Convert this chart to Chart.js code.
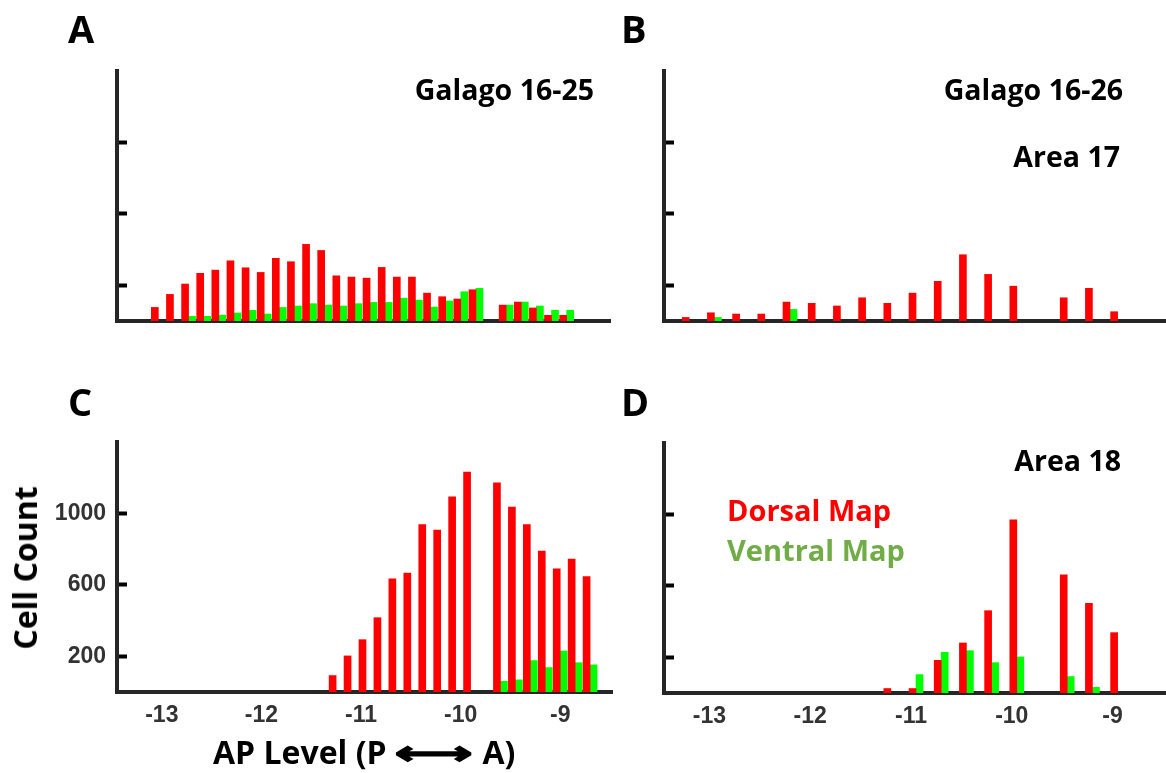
<!DOCTYPE html>
<html>
<head>
<meta charset="utf-8">
<script src="https://cdn.jsdelivr.net/npm/chart.js@4.4.1/dist/chart.umd.min.js"></script>
<style>
  body { margin: 0; width: 1166px; height: 773px; background: #fff; position: relative; overflow: hidden; font-family: 'Open Sans', sans-serif; font-weight: 700; }
  canvas, .t { position: absolute; }
  .t { line-height: 1; white-space: nowrap; color: #000; }
  .lbl { font-size: 38px; }
  .ttl { font-size: 28.5px; }
  .arrow { display: inline-block; font-family: 'DejaVu Sans'; font-weight: 700; transform: scaleX(1.7); margin: 0 26px 0 24px; -webkit-text-stroke: 1.6px #000; }
</style>
</head>
<body>
<canvas id="cA" width="620" height="280" style="left:0;top:51px"></canvas>
<canvas id="cB" width="619" height="280" style="left:547px;top:51px"></canvas>
<canvas id="cC" width="622" height="335" style="left:0;top:402px"></canvas>
<canvas id="cD" width="619" height="315" style="left:547px;top:423px"></canvas>

<div class="t lbl" style="left:68px;top:9px">A</div>
<div class="t lbl" style="left:621px;top:9px">B</div>
<div class="t lbl" style="left:68px;top:382px">C</div>
<div class="t lbl" style="left:621px;top:382px">D</div>

<div class="t ttl" style="right:572px;top:75px">Galago 16-25</div>
<div class="t ttl" style="right:43px;top:75px">Galago 16-26</div>
<div class="t ttl" style="right:46px;top:142px">Area 17</div>
<div class="t ttl" style="right:45px;top:446px">Area 18</div>
<div class="t" style="left:727px;top:495px;font-size:29px;color:#ff0000">Dorsal Map</div>
<div class="t" style="left:727px;top:535px;font-size:29px;color:#70ad47">Ventral Map</div>

<div class="t" style="left:25px;top:568px;font-size:32px;transform:translate(-50%,-50%) rotate(-90deg)">Cell Count</div>
<div class="t" style="left:213px;top:736px;font-size:32px">AP Level (P<span class="arrow">⟷</span>A)</div>

<script>
// AP levels (mm) and cell counts per section
const levelsA = [-13.05, -12.9, -12.75, -12.6, -12.45, -12.3, -12.15, -12.0, -11.85, -11.7, -11.55, -11.4, -11.25, -11.1,
  -10.95, -10.8, -10.65, -10.5, -10.35, -10.2, -10.05, -9.9, -9.6, -9.45, -9.3, -9.15, -9.0];
const dorsalA = [76, 149, 207, 267, 285, 337, 298, 272, 351, 332, 429, 395, 253, 246,
  240, 300, 246, 246, 156, 136, 123, 175, 89, 106, 73, 32, 32];
const ventralA = [null, null, 26, 26, 33, 45, 60, 39, 76, 84, 97, 89, 84, 97,
  104, 104, 128, 117, 78, 112, 164, 183, 89, 106, 84, 60, 60];

const levelsB = [-13.2, -12.95, -12.7, -12.45, -12.2, -11.95, -11.7, -11.45, -11.2, -10.95, -10.7, -10.45, -10.2, -9.95,
  -9.45, -9.2, -8.95];
const dorsalB = [20, 46, 39, 39, 106, 99, 84, 130, 99, 156, 222, 371, 261, 195, 130, 183, 52];
const ventralB = [null, 20, null, null, 65, null, null, null, null, null, null, null, null, null, null, null, null];

const levelsC = [-11.25, -11.1, -10.95, -10.8, -10.65, -10.5, -10.35, -10.2, -10.05, -9.9,
  -9.6, -9.45, -9.3, -9.15, -9.0, -8.85, -8.7];
const dorsalC = [92, 202, 293, 416, 634, 666, 938, 907, 1093, 1231, 1171, 1035, 938, 789, 690, 745, 646];
const ventralC = [null, null, null, null, null, null, null, null, null, null, 60, 68, 176, 137, 230, 164, 152];

const levelsD = [-11.2, -10.95, -10.7, -10.45, -10.2, -9.95, -9.45, -9.2, -8.95];
const dorsalD = [25, 25, 183, 280, 461, 970, 662, 502, 338];
const ventralD = [null, 103, 228, 237, 170, 202, 92, 32, null];

const xTicks = [-13, -12, -11, -10, -9];
const yTicks = [200, 600, 1000];
const yMax = 1400;

Chart.defaults.font.family = "'Liberation Sans', Arial, sans-serif";
Chart.defaults.font.weight = 'bold';

function panel(id, levels, dorsal, ventral, cfg) {
    const ctx = document.getElementById(id).getContext('2d');
    return new Chart(ctx, {
        type: 'bar',
        data: {
            datasets: [
                { label: 'Dorsal Map', data: levels.map((x, i) => ({ x: x, y: dorsal[i] })),
                  backgroundColor: '#ff0000', barThickness: 7 },
                { label: 'Ventral Map', data: levels.map((x, i) => ({ x: x, y: ventral[i] })),
                  backgroundColor: '#00ff00', barThickness: 7 }
            ]
        },
        options: {
            responsive: false,
            animation: false,
            devicePixelRatio: 1,
            layout: { padding: { top: cfg.padTop, right: cfg.padRight, left: 0, bottom: 0 } },
            plugins: { legend: { display: false }, tooltip: { enabled: false } },
            scales: {
                x: {
                    type: 'linear', min: cfg.xMin, max: cfg.xMax, offset: false, z: 1,
                    afterBuildTicks: s => { s.ticks = xTicks.map(v => ({ value: v })); },
                    afterFit: s => { s.height = cfg.xHeight; },
                    grid: { display: false, drawTicks: false },
                    border: { display: true, width: 4, color: '#262626' },
                    ticks: { display: cfg.showX, padding: 10, color: '#333', font: { size: 23 }, callback: v => String(v) }
                },
                y: {
                    min: 0, max: yMax, z: 1,
                    afterBuildTicks: s => { s.ticks = yTicks.map(v => ({ value: v })); },
                    afterFit: s => { s.width = 117; },
                    grid: { display: true, drawOnChartArea: false, drawTicks: true, tickLength: -10, tickWidth: 4, tickColor: '#000' },
                    border: { display: true, width: 4, color: '#262626' },
                    ticks: { display: cfg.showY, padding: 21, color: '#333', font: { size: 23 }, callback: v => String(v) }
                }
            }
        }
    });
}

panel('cA', levelsA, dorsalA, ventralA, { xMin: -13.46, xMax: -8.57, padTop: 20, padRight: 10, xHeight: 10, showX: false, showY: false });
panel('cB', levelsB, dorsalB, ventralB, { xMin: -13.45, xMax: -8.48, padTop: 20, padRight: 1, xHeight: 10, showX: false, showY: false });
panel('cC', levelsC, dorsalC, ventralC, { xMin: -13.45, xMax: -8.48, padTop: 40, padRight: 10, xHeight: 45, showX: true, showY: true });
panel('cD', levelsD, dorsalD, ventralD, { xMin: -13.45, xMax: -8.48, padTop: 20, padRight: 1, xHeight: 45, showX: true, showY: false });
</script>
</body>
</html>
